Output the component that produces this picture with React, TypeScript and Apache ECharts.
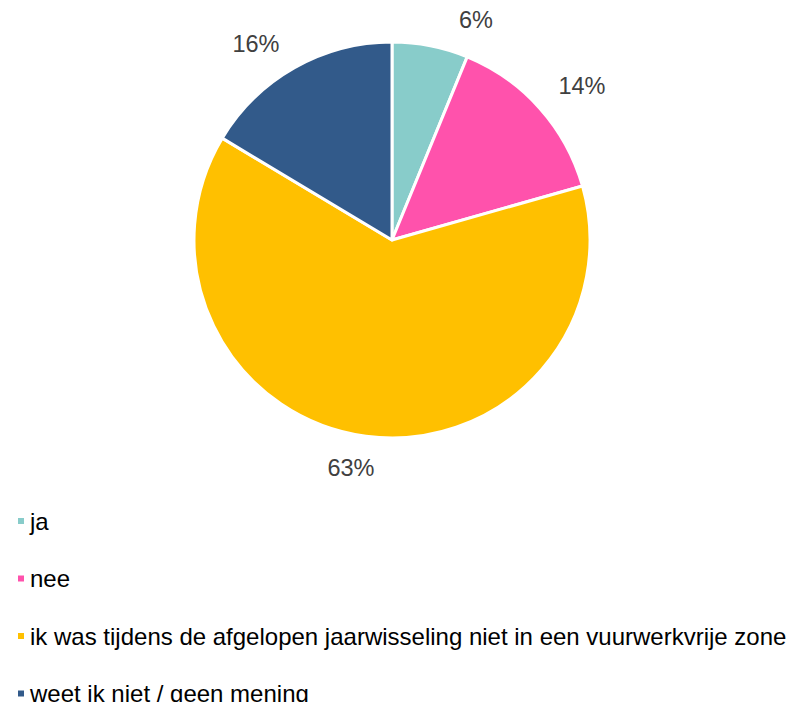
import React, { useEffect, useRef } from "react";
import * as echarts from "echarts";

const categories = [
  "ja",
  "nee",
  "ik was tijdens de afgelopen jaarwisseling niet in een vuurwerkvrije zone",
  "weet ik niet / geen mening",
];
const values = [6.2, 14.4, 63.0, 16.4];
const colors = ["#88CCCA", "#FF52AC", "#FFC000", "#325A8A"];
const labelPositions: [number, number][] = [
  [476, 20],
  [582, 86],
  [351, 468],
  [256, 44],
];

export default function App() {
  const ref = useRef<HTMLDivElement>(null);
  useEffect(() => {
    if (!ref.current) return;
    const chart = echarts.init(ref.current, undefined, { renderer: "svg" });
    chart.setOption({
      animation: false,
      color: colors,
      legend: {
        orient: "vertical",
        left: 16,
        top: 509,
        height: 200,
        padding: 0,
        icon: "rect",
        itemWidth: 8,
        itemHeight: 8,
        itemGap: 33.5,
        data: categories,
        textStyle: {
          fontFamily: "Liberation Sans, Arial, sans-serif",
          fontSize: 24,
          lineHeight: 24,
          color: "#000000",
        },
        selectedMode: false,
      },
      series: [
        {
          type: "pie",
          center: [392, 240],
          radius: 198,
          startAngle: 90,
          clockwise: true,
          itemStyle: { borderColor: "#ffffff", borderWidth: 3 },
          label: {
            show: true,
            position: "outside",
            formatter: (p: any) => Math.round(p.percent) + "%",
            fontFamily: "Liberation Sans, Arial, sans-serif",
            fontSize: 23.5,
            color: "#404040",
          },
          labelLine: { show: false },
          labelLayout: (p: any) => ({
            x: labelPositions[p.dataIndex][0],
            y: labelPositions[p.dataIndex][1],
            align: "center",
            verticalAlign: "middle",
          }),
          emphasis: { disabled: true },
          data: categories.map((name, i) => ({ name, value: values[i] })),
        },
      ],
    });
    return () => chart.dispose();
  }, []);
  return (
    <div
      ref={ref}
      style={{ position: "absolute", left: 0, top: 0, width: 791, height: 702 }}
    />
  );
}
